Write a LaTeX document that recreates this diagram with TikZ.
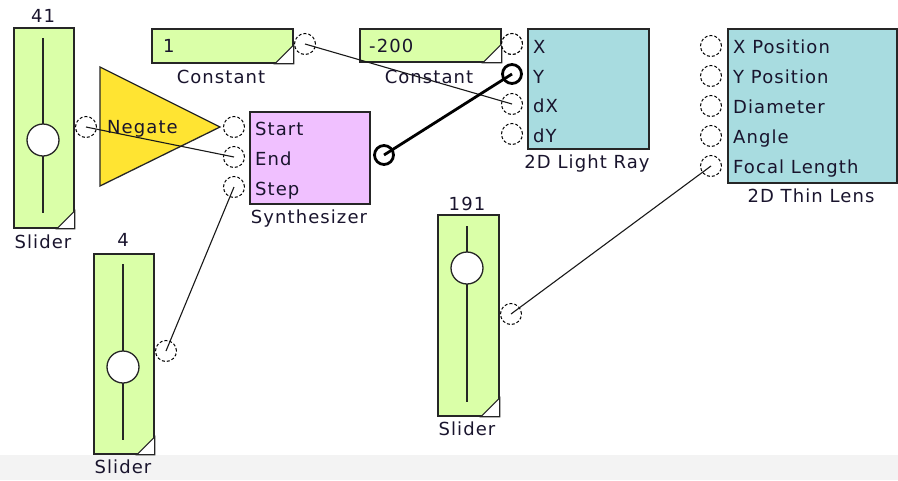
\documentclass[tikz,border=0pt]{standalone}
\usepackage{fontspec}
\setmainfont{DejaVu Sans}[LetterSpace=6]
\definecolor{cgreen}{RGB}{218,255,168}
\definecolor{cyellow}{RGB}{255,228,50}
\definecolor{cpink}{RGB}{240,192,255}
\definecolor{cteal}{RGB}{168,220,224}
\definecolor{ctext}{RGB}{25,20,45}
\definecolor{cband}{RGB}{243,243,243}
\begin{document}
\begin{tikzpicture}[x=1pt,y=-1pt,
  box/.style={draw=black!85, line width=1.8pt, inner sep=0pt, anchor=north west},
  port/.style={circle, draw=black, densely dashed, line width=1pt, fill=white, minimum size=21pt, inner sep=0pt},
  bport/.style={circle, draw=black, line width=2.8pt, fill=white, minimum size=19pt, inner sep=0pt},
  wire/.style={draw=black!90, line width=1.1pt},
  bwire/.style={draw=black, line width=2.8pt},
  txt/.style={text=ctext, inner sep=0pt, font=\fontsize{18}{20}\selectfont},
  lbl/.style={txt, anchor=base},
  lbw/.style={txt, anchor=base west},
  corner/.style={draw=black!85, line width=1.2pt, fill=white},
  knob/.style={circle, draw=black!85, line width=1.3pt, fill=white, minimum size=32pt, inner sep=0pt},
  track/.style={draw=black!85, line width=1.6pt}]
\useasboundingbox (0,0) rectangle (898,480);
\fill[cband] (0,455) rectangle (898,480);

% Slider 1
\node[box, fill=cgreen, minimum width=60pt, minimum height=200pt] (s1) at (13,27) {};
\draw[track] (43,38) -- (43,213);
\node[knob] (s1k) at (43,140) {};
\draw[corner] (s1.south east) -- ++(-18,0) -- ++(18,-18) -- cycle;
\node[lbl] (s1v) at (43,22) {41};
\node[lbl] (s1n) at (43,248) {Slider};
\node[port] (s1o) at (86,127) {};

% Negate
\draw[draw=black!85, line width=1.3pt, fill=cyellow] (100,67) -- (220,127) -- (100,186) -- cycle;

% Constant 1
\node[box, fill=cgreen, minimum width=141pt, minimum height=34pt] (c1) at (151,28) {};
\draw[corner] (c1.south east) -- ++(-19,0) -- ++(19,-19) -- cycle;
\node[lbw] (c1v) at (163,52) {1};
\node[lbl] (c1n) at (221,83) {Constant};
\node[port] (c1o) at (305,44) {};

% Constant 2
\node[box, fill=cgreen, minimum width=141pt, minimum height=33pt] (c2) at (359,28) {};
\draw[corner] (c2.south east) -- ++(-19,0) -- ++(19,-19) -- cycle;
\node[lbw] (c2v) at (369,52) {-200};
\node[port] (c2o) at (512,44) {};

% Synthesizer
\node[box, fill=cpink, minimum width=120pt, minimum height=92pt] (syn) at (249,111) {};
\node[port] (synS) at (234,127) {};
\node[port] (synE) at (234,157) {};
\node[port] (synT) at (234,187) {};
\node[lbw] at (255,135) {Start};
\node[lbw] at (255,165) {End};
\node[lbw] at (255,195) {Step};
\node[lbl] (synn) at (309,223) {Synthesizer};

% 2D Light Ray
\node[box, fill=cteal, minimum width=121pt, minimum height=120pt] (lr) at (527,28) {};
\node[port] (lrX) at (512,44) {};
\node[port] (lrdX) at (512,104) {};
\node[port] (lrdY) at (512,134) {};
\node[lbw] at (533,53) {X};
\node[lbw] at (533,83) {Y};
\node[lbw] at (533,112) {dX};
\node[lbw] at (533,142) {dY};
\node[lbl] (lrn) at (587,168) {2D Light Ray};

% 2D Thin Lens
\node[box, fill=cteal, minimum width=169pt, minimum height=154pt] (tl) at (727,28) {};
\node[port] (tlX) at (711,46) {};
\node[port] (tlY) at (711,76) {};
\node[port] (tlD) at (711,106) {};
\node[port] (tlA) at (711,136) {};
\node[port] (tlF) at (711,166) {};
\node[lbw] at (733,53) {X Position};
\node[lbw] at (733,83) {Y Position};
\node[lbw] at (733,113) {Diameter};
\node[lbw] at (733,143) {Angle};
\node[lbw] at (733,173) {Focal Length};
\node[lbl] (tln) at (811,202) {2D Thin Lens};

% Slider 2
\node[box, fill=cgreen, minimum width=60pt, minimum height=200pt] (s2) at (93,253) {};
\draw[track] (123,264) -- (123,440);
\node[knob] (s2k) at (123,367) {};
\draw[corner] (s2.south east) -- ++(-18,0) -- ++(18,-18) -- cycle;
\node[lbl] (s2v) at (123,246) {4};
\node[lbl] (s2n) at (123,473) {Slider};
\node[port] (s2o) at (166,351) {};

% Slider 3
\node[box, fill=cgreen, minimum width=61pt, minimum height=201pt] (s3) at (437,214) {};
\draw[track] (467,226) -- (467,402);
\node[knob] (s3k) at (467,268) {};
\draw[corner] (s3.south east) -- ++(-19,0) -- ++(19,-19) -- cycle;
\node[lbl] (s3v) at (467,210) {191};
\node[lbl] (s3n) at (467,435) {Slider};
\node[port] (s3o) at (511,314) {};

% bold ports
\node[bport] (synO) at (384,155) {};
\node[bport] (lrY) at (512,74) {};

% wires
\draw[wire] (s1o.center) -- (synE.center);
\draw[wire] (c1o.center) -- (lrdX.center);
\draw[wire] (s2o.center) -- (synT.center);
\draw[wire] (s3o.center) -- (tlF.center);
\draw[bwire] (synO.center) -- (lrY.center);

% texts over wires
\node[lbw] (neg) at (107,133) {Negate};
\node[lbl] (c2n) at (429,83) {Constant};
\end{tikzpicture}
\end{document}
